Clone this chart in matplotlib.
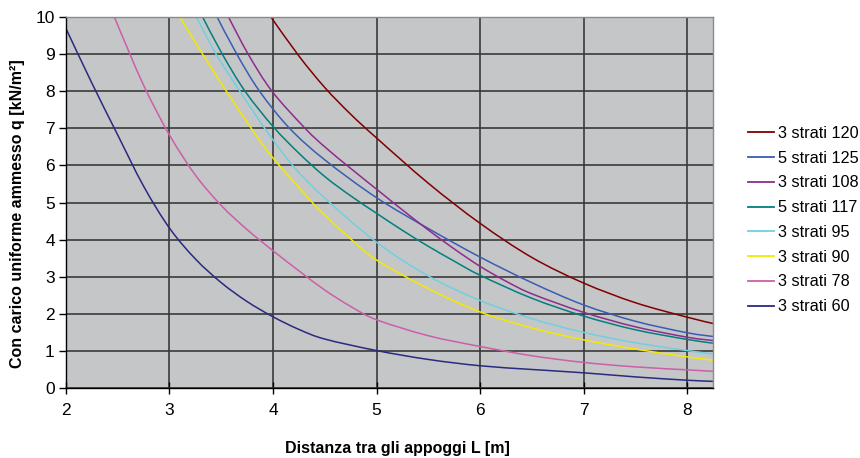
import matplotlib
matplotlib.use("Agg")
import matplotlib.pyplot as plt
from matplotlib.path import Path
from matplotlib.patches import PathPatch
from matplotlib.lines import Line2D

# Values (L in m, q in kN/m2)
labels = ["3 strati 120", "5 strati 125", "3 strati 108", "5 strati 117",
          "3 strati 95", "3 strati 90", "3 strati 78", "3 strati 60"]
colors = ["#800000", "#3a5cb4", "#8e2c8e", "#008080",
          "#6fd0e0", "#f2ea00", "#cc5fa8", "#2a2a80"]

L_120 = [3.98, 4.25, 4.5, 4.75, 5.0, 5.5, 6.0, 6.5, 7.0, 7.5, 8.0, 8.25]
q_120 = [10.0, 8.95, 8.10, 7.38, 6.74, 5.52, 4.44, 3.52, 2.83, 2.30, 1.91, 1.74]

L_125 = [3.46, 3.65, 3.87, 4.16, 4.5, 5.0, 5.5, 6.0, 6.5, 7.0, 7.5, 8.0, 8.25]
q_125 = [10.0, 9.0, 8.0, 7.0, 6.15, 5.13, 4.30, 3.53, 2.84, 2.24, 1.80, 1.49, 1.39]

L_108 = [3.57, 3.76, 3.99, 4.31, 4.5, 4.75, 5.0, 5.25, 5.5, 5.75, 6.0, 6.25, 6.5, 7.0, 7.5, 8.0, 8.25]
q_108 = [10.0, 9.0, 8.0, 7.0, 6.50, 5.92, 5.36, 4.80, 4.26, 3.75, 3.28, 2.88, 2.54, 2.04, 1.65, 1.37, 1.28]

L_117 = [3.32, 3.51, 3.73, 4.0, 4.25, 4.5, 4.75, 5.0, 5.25, 5.5, 5.75, 6.0, 6.5, 7.0, 7.5, 8.0, 8.25]
q_117 = [10.0, 9.0, 8.0, 7.05, 6.33, 5.70, 5.18, 4.71, 4.25, 3.82, 3.42, 3.04, 2.42, 1.94, 1.57, 1.31, 1.21]

L_95 = [3.26, 3.45, 3.68, 3.92, 4.19, 4.5, 5.0, 5.5, 6.0, 6.5, 7.0, 7.5, 8.0, 8.25]
q_95 = [10.0, 9.0, 8.0, 7.0, 6.0, 5.12, 3.93, 3.02, 2.36, 1.87, 1.50, 1.22, 1.01, 0.92]

L_90 = [3.10, 3.32, 3.55, 3.79, 4.0, 4.38, 4.5, 4.75, 5.0, 5.5, 6.0, 6.5, 7.0, 7.5, 8.0, 8.25]
q_90 = [10.0, 9.0, 8.0, 7.0, 6.2, 5.0, 4.66, 4.02, 3.45, 2.68, 2.05, 1.62, 1.30, 1.05, 0.84, 0.75]

L_78 = [2.47, 2.5, 2.75, 3.0, 3.25, 3.5, 3.75, 4.0, 4.25, 4.5, 4.75, 5.0, 5.5, 6.0, 6.5, 7.0, 7.5, 8.0, 8.25]
q_78 = [10.0, 9.78, 8.16, 6.82, 5.74, 4.92, 4.27, 3.70, 3.16, 2.64, 2.20, 1.84, 1.41, 1.12, 0.87, 0.69, 0.57, 0.49, 0.45]

L_60 = [2.0, 2.25, 2.5, 2.75, 3.0, 3.25, 3.5, 3.75, 4.0, 4.25, 4.5, 5.0, 5.5, 6.0, 6.5, 7.0, 7.5, 8.0, 8.25]
q_60 = [9.69, 8.22, 6.82, 5.44, 4.31, 3.48, 2.84, 2.33, 1.92, 1.58, 1.32, 1.01, 0.77, 0.60, 0.50, 0.41, 0.30, 0.21, 0.18]

series_L = [L_120, L_125, L_108, L_117, L_95, L_90, L_78, L_60]
series_q = [q_120, q_125, q_108, q_117, q_95, q_90, q_78, q_60]

x_ticks = [2, 3, 4, 5, 6, 7, 8]
y_ticks = list(range(0, 11))


def smooth_path(xs, ys):
    # smoothed line like the spreadsheet draws it: bezier through every point
    pts = list(zip(xs, ys))
    verts = [pts[0]]
    codes = [Path.MOVETO]
    n = len(pts)
    for i in range(n - 1):
        p0 = pts[i - 1] if i > 0 else pts[i]
        p1 = pts[i]
        p2 = pts[i + 1]
        p3 = pts[i + 2] if i + 2 < n else pts[i + 1]
        c1 = (p1[0] + (p2[0] - p0[0]) / 6, p1[1] + (p2[1] - p0[1]) / 6)
        c2 = (p2[0] - (p3[0] - p1[0]) / 6, p2[1] - (p3[1] - p1[1]) / 6)
        verts += [c1, c2, p2]
        codes += [Path.CURVE4] * 3
    return Path(verts, codes)


plt.rcParams["font.family"] = ["Liberation Sans", "DejaVu Sans"]

fig = plt.figure(figsize=(8.6, 4.58), dpi=100)
ax = fig.add_axes([0.0767, 0.1528, 0.7523, 0.8101])
ax.set_facecolor("#c5c6c8")

handles = []
for L, q, lab, col in zip(series_L, series_q, labels, colors):
    patch = PathPatch(smooth_path(L, q), fill=False, edgecolor=col, lw=1.1)
    ax.add_patch(patch)
    handles.append(Line2D([], [], color=col, lw=1.3, label=lab))

ax.set_xlim(2, 8.25)
ax.set_ylim(0, 10)
ax.set_xticks(x_ticks)
ax.set_yticks(y_ticks)
ax.grid(True, color="#3a3a3a", lw=1.2)
ax.set_axisbelow(True)

ax.tick_params(axis="y", direction="out", length=5, width=1, labelsize=12.5, pad=3)
ax.tick_params(axis="x", direction="inout", length=8, width=1, labelsize=12.5, pad=7)
for side in ["left", "bottom"]:
    ax.spines[side].set_color("black")
    ax.spines[side].set_linewidth(1)
for side in ["top", "right"]:
    ax.spines[side].set_color("#8a8a8a")
    ax.spines[side].set_linewidth(1)

ax.set_xlabel("Distanza tra gli appoggi L [m]", fontsize=11.5, fontweight="bold")
ax.xaxis.set_label_coords(0.512, -0.142)
ax.set_ylabel("Con carico uniforme ammesso q [kN/m²]", fontsize=11.5,
              fontweight="bold")
ax.yaxis.set_label_coords(-0.063, 0.469)

fig.legend(handles=handles, loc="upper left", bbox_to_anchor=(0.8698, 0.725),
           frameon=False, fontsize=11.7, handlelength=1.6, handletextpad=0.25,
           labelspacing=0.6, borderaxespad=0, borderpad=0)

fig.savefig("out.png", dpi=100, facecolor="white")
